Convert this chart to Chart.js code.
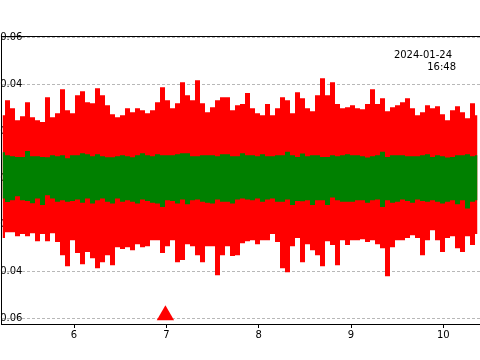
<!DOCTYPE html>
<html><head><meta charset="utf-8">
<script src="https://cdn.jsdelivr.net/npm/chart.js@4/dist/chart.umd.min.js"></script>
<style>html,body{margin:0;padding:0;background:#fff;overflow:hidden}canvas{display:block}</style>
</head><body>
<canvas id="c" width="480" height="360"></canvas>
<script>
// sampling of the time axis (seconds): first sample and step
const T0 = 5.2256, DT = 0.05415;
// red signal envelope (upper / lower)
const redUpper = [0.0268,0.0333,0.0298,0.0247,0.0264,0.0324,0.0260,0.0247,0.0239,0.0345,
 0.0260,0.0277,0.0380,0.0290,0.0277,0.0354,0.0371,0.0324,0.0320,0.0384,
 0.0354,0.0311,0.0273,0.0260,0.0268,0.0298,0.0281,0.0298,0.0290,0.0277,
 0.0290,0.0324,0.0388,0.0333,0.0298,0.0320,0.0410,0.0354,0.0333,0.0418,
 0.0320,0.0281,0.0303,0.0333,0.0345,0.0345,0.0290,0.0311,
 0.0316,0.0363,0.0298,0.0277,0.0268,0.0316,0.0268,0.0298,0.0345,0.0333,
 0.0277,0.0367,0.0341,0.0298,0.0286,0.0354,0.0427,0.0354,0.0410,0.0316,
 0.0298,0.0303,0.0311,0.0298,0.0294,0.0316,0.0380,0.0316,0.0341,0.0286,
 0.0303,0.0311,0.0324,0.0341,0.0298,0.0268,0.0281,0.0311,0.0298,0.0307,
 0.0273,0.0247,0.0290,0.0307,0.0281,0.0256,0.0320,0.0268];
const redLower = [-0.0257,-0.0232,-0.0232,-0.0249,-0.0240,-0.0249,-0.0236,-0.0270,-0.0240,-0.0270,
 -0.0236,-0.0274,-0.0330,-0.0377,-0.0266,-0.0321,-0.0369,-0.0317,-0.0343,-0.0386,
 -0.0360,-0.0330,-0.0373,-0.0296,-0.0304,-0.0296,-0.0309,-0.0283,-0.0296,-0.0292,
 -0.0266,-0.0266,-0.0321,-0.0292,-0.0266,-0.0360,-0.0351,-0.0283,-0.0292,-0.0330,
 -0.0360,-0.0292,-0.0292,-0.0416,-0.0330,-0.0292,-0.0334,-0.0330,
 -0.0279,-0.0270,-0.0266,-0.0283,-0.0266,-0.0266,-0.0240,-0.0274,-0.0386,-0.0403,
 -0.0292,-0.0257,-0.0360,-0.0283,-0.0309,-0.0330,-0.0377,-0.0270,-0.0287,-0.0373,
 -0.0266,-0.0287,-0.0266,-0.0266,-0.0262,-0.0274,-0.0266,-0.0283,-0.0300,-0.0420,
 -0.0296,-0.0266,-0.0266,-0.0257,-0.0245,-0.0257,-0.0330,-0.0266,-0.0223,-0.0266,
 -0.0317,-0.0257,-0.0249,-0.0300,-0.0317,-0.0249,-0.0287,-0.0240];
// green signal envelope (upper / lower)
const greenUpper = [0.0110,0.0097,0.0093,0.0090,0.0090,0.0115,0.0093,0.0093,0.0090,0.0089,
 0.0097,0.0093,0.0097,0.0085,0.0097,0.0097,0.0106,0.0102,0.0093,0.0102,
 0.0093,0.0089,0.0089,0.0093,0.0097,0.0093,0.0089,0.0097,0.0106,0.0097,
 0.0093,0.0102,0.0097,0.0097,0.0097,0.0102,0.0106,0.0106,0.0093,0.0093,
 0.0097,0.0097,0.0097,0.0093,0.0102,0.0102,0.0093,0.0093,
 0.0106,0.0097,0.0097,0.0093,0.0102,0.0093,0.0093,0.0097,0.0097,0.0112,
 0.0097,0.0090,0.0105,0.0093,0.0097,0.0097,0.0090,0.0090,0.0097,0.0093,
 0.0097,0.0102,0.0097,0.0097,0.0093,0.0088,0.0093,0.0097,0.0112,0.0090,
 0.0097,0.0097,0.0097,0.0093,0.0093,0.0093,0.0097,0.0102,0.0090,0.0097,
 0.0093,0.0088,0.0090,0.0097,0.0097,0.0102,0.0093,0.0097];
const greenLower = [-0.0088,-0.0103,-0.0095,-0.0078,-0.0095,-0.0098,-0.0108,-0.0088,-0.0116,-0.0074,
 -0.0088,-0.0102,-0.0095,-0.0102,-0.0098,-0.0092,-0.0106,-0.0088,-0.0109,-0.0095,
 -0.0088,-0.0102,-0.0109,-0.0088,-0.0102,-0.0095,-0.0102,-0.0109,-0.0092,-0.0098,
 -0.0106,-0.0109,-0.0124,-0.0095,-0.0098,-0.0109,-0.0092,-0.0112,-0.0095,-0.0092,
 -0.0102,-0.0106,-0.0109,-0.0092,-0.0102,-0.0102,-0.0109,-0.0092,
 -0.0088,-0.0092,-0.0095,-0.0088,-0.0102,-0.0092,-0.0088,-0.0102,-0.0102,-0.0092,
 -0.0116,-0.0098,-0.0099,-0.0095,-0.0116,-0.0095,-0.0095,-0.0116,-0.0083,-0.0095,
 -0.0102,-0.0102,-0.0102,-0.0095,-0.0095,-0.0106,-0.0095,-0.0092,-0.0124,-0.0095,
 -0.0106,-0.0102,-0.0092,-0.0098,-0.0106,-0.0092,-0.0098,-0.0102,-0.0095,-0.0102,
 -0.0109,-0.0102,-0.0095,-0.0112,-0.0095,-0.0130,-0.0102,-0.0095];
// event marker
const markerTimes = [6.99];
const markerValues = [-0.0587];
// axes
const xRange = [5.2094, 10.397];
const yRange = [-0.06244, 0.06073];
const xStep = 1;
const yStep = 0.02;
const stampLines = ['2024-01-24', '16:48'];

const times = redUpper.map((_, i) => T0 + i * DT);
const pts = arr => arr.map((v, i) => ({x: times[i], y: v}));

Chart.defaults.font.family = "'DejaVu Sans', sans-serif";
Chart.defaults.font.size = 10;
Chart.defaults.color = '#000';

const stampPlugin = {
  id: 'stamp',
  afterDraw(chart) {
    const ctx = chart.ctx;
    ctx.save();
    ctx.font = "10px 'DejaVu Sans', sans-serif";
    ctx.fillStyle = '#000';
    ctx.textAlign = 'right';
    ctx.textBaseline = 'alphabetic';
    ctx.fillText(stampLines[0], 452, 57.5);
    ctx.fillText(stampLines[1], 456, 70);
    ctx.restore();
  }
};

const lineDs = (data, color, fill, order) => ({
  type: 'line', data: pts(data), borderColor: 'rgba(0,0,0,0)', borderWidth: 0,
  backgroundColor: color, pointRadius: 0, stepped: 'middle', fill: fill, order: order
});

new Chart(document.getElementById('c'), {
  data: {
    datasets: [
      lineDs(redUpper, '#ff0000', false, 3),
      lineDs(redLower, '#ff0000', 0, 3),
      lineDs(greenUpper, '#008000', false, 2),
      lineDs(greenLower, '#008000', 2, 2),
      { type: 'scatter', data: markerTimes.map((t, i) => ({x: t, y: markerValues[i]})),
        pointStyle: 'triangle', pointRadius: 10, backgroundColor: '#ff0000',
        borderWidth: 0, borderColor: '#ff0000', order: 0 }
    ]
  },
  options: {
    responsive: false, animation: false, devicePixelRatio: 1,
    layout: { autoPadding: false, padding: { left: 1, top: 36, right: 0, bottom: 0 } },
    plugins: { legend: { display: false }, tooltip: { enabled: false } },
    scales: {
      x: {
        type: 'linear', position: 'bottom', min: xRange[0], max: xRange[1],
        afterFit: s => { s.height = 36; },
        ticks: { stepSize: xStep, includeBounds: false, padding: 1,
                 callback: v => String(Math.round(v)) },
        grid: { drawOnChartArea: false, drawTicks: true, tickLength: 4, tickColor: '#000', color: '#000' },
        border: { display: true, color: '#000', width: 1 }
      },
      x2: {
        type: 'linear', position: 'top', min: xRange[0], max: xRange[1],
        afterFit: s => { s.height = 0; },
        ticks: { display: false },
        grid: { drawOnChartArea: false, drawTicks: false },
        border: { display: true, color: '#000', width: 1 }
      },
      y: {
        type: 'linear', position: 'left', min: yRange[0], max: yRange[1],
        afterFit: s => { s.width = 0; },
        ticks: { stepSize: yStep, includeBounds: false, mirror: true, crossAlign: 'far', padding: -9.2,
                 callback: v => (v < -1e-9 ? '\u2212' : '') + Math.abs(v).toFixed(2) },
        grid: { drawTicks: false, lineWidth: 1,
                color: c => (c.tick && Math.abs(c.tick.value) < 0.03) ? 'rgba(0,0,0,0)' : '#b8b8b8' },
        border: { display: true, color: '#000', width: 1, dash: [3, 2] }
      }
    }
  },
  plugins: [stampPlugin]
});
</script>
</body></html>
